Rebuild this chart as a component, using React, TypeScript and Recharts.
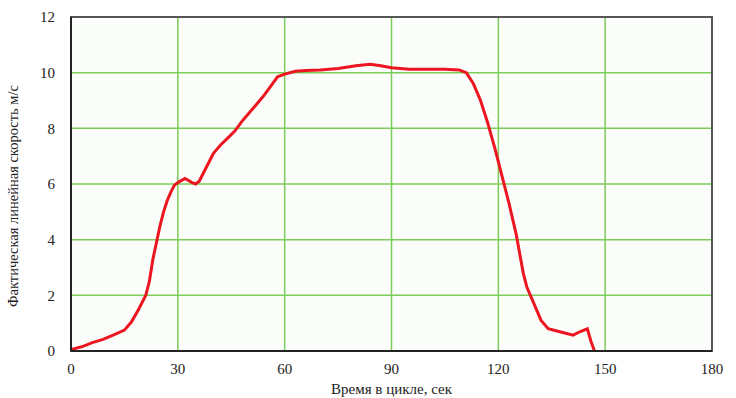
import React from 'react';
import { LineChart, Line, XAxis, YAxis, CartesianGrid, ReferenceArea, Label } from 'recharts';

// time in cycle, s
const timeSec = [
  0, 3, 6, 9, 12, 15, 17, 19, 21, 22, 23, 24, 25, 26, 27, 28, 29, 30, 32, 34, 35, 36, 38, 40,
  42, 44, 46, 48, 50, 52, 54, 56, 58, 60, 63, 66, 70, 75, 80, 84, 87, 90, 95, 100, 105, 109,
  111, 113, 115, 117, 119, 121, 123, 125, 126, 127, 128, 130, 132, 134, 137, 141, 143, 145, 146, 147,
];
// actual linear speed, m/s
const speed = [
  0.05, 0.15, 0.3, 0.42, 0.58, 0.75, 1.05, 1.5, 2.0, 2.5, 3.3, 3.9, 4.5, 5.0, 5.4, 5.7, 5.95, 6.05, 6.2, 6.05, 6.0, 6.1, 6.6, 7.1,
  7.4, 7.65, 7.9, 8.25, 8.55, 8.85, 9.15, 9.5, 9.85, 9.95, 10.05, 10.08, 10.1, 10.15, 10.25, 10.3, 10.25, 10.18, 10.12, 10.12, 10.12, 10.1,
  10.0, 9.6, 9.0, 8.2, 7.3, 6.3, 5.3, 4.2, 3.5, 2.8, 2.3, 1.7, 1.1, 0.8, 0.7, 0.57, 0.7, 0.8, 0.35, 0,
];

const xTicks = [0, 30, 60, 90, 120, 150, 180];
const yTicks = [0, 2, 4, 6, 8, 10, 12];

const data = timeSec.map((t, i) => ({ t, v: speed[i] }));

const font = "'Liberation Serif', 'DejaVu Serif', serif";

export default function App() {
  return (
    <div style={{ position: 'absolute', left: 0, top: 0, background: '#fff', fontFamily: font }}>
      <LineChart width={736} height={398} data={data} margin={{ top: 17, right: 24, left: 0, bottom: 0 }}>
        <CartesianGrid
          fill="#fbfdfb"
          stroke="#7ccc5a"
          strokeWidth={1.5}
          horizontalValues={yTicks}
          verticalValues={xTicks}
        />
        <ReferenceArea x1={0} x2={180} y1={0} y2={12} fill="none" stroke="#555" strokeWidth={2} />
        <XAxis
          type="number"
          dataKey="t"
          domain={[0, 180]}
          ticks={xTicks}
          height={47}
          tickLine={false}
          axisLine={{ stroke: '#222', strokeWidth: 2 }}
          tick={{ fill: '#222', fontSize: 15, fontFamily: font }}
          tickMargin={6}
        >
          <Label value="Время в цикле, сек" position="insideBottom" offset={4} style={{ fill: '#222', fontSize: 15, fontFamily: font }} />
        </XAxis>
        <YAxis
          type="number"
          domain={[0, 12]}
          ticks={yTicks}
          width={71}
          tickLine={false}
          axisLine={{ stroke: '#222', strokeWidth: 2 }}
          tick={{ fill: '#222', fontSize: 15, fontFamily: font }}
          tickMargin={10}
        >
          <Label
            value="Фактическая линейная скорость м/с"
            angle={-90}
            position="insideLeft"
            offset={13}
            dy={12}
            style={{ fill: '#222', fontSize: 14.5, fontFamily: font, textAnchor: 'middle' }}
          />
        </YAxis>
        <Line type="linear" dataKey="v" stroke="#ec1620" strokeWidth={3} dot={false} isAnimationActive={false} />
      </LineChart>
    </div>
  );
}
